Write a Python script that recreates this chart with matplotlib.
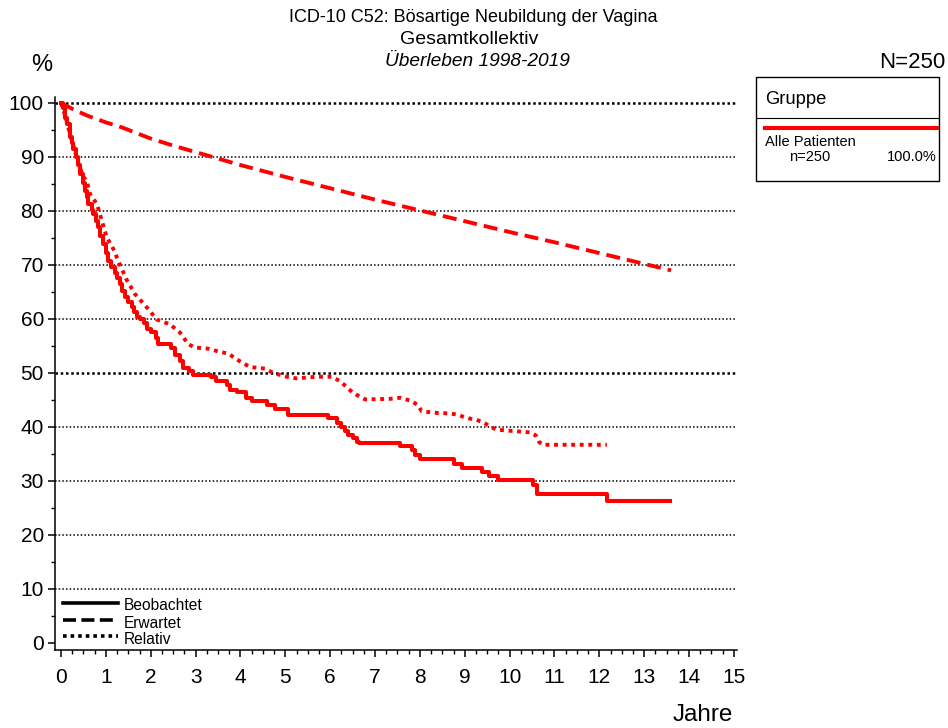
import matplotlib.pyplot as plt
from matplotlib.lines import Line2D
from matplotlib.patches import Rectangle
from matplotlib.ticker import MultipleLocator

plt.rcParams['font.family'] = ['Liberation Sans', 'DejaVu Sans']

# Beobachtet (Kaplan-Meier, Treppenfunktion)
obs_t = [0.00, 0.05, 0.09, 0.14, 0.19, 0.25, 0.27, 0.33, 0.38, 0.42, 0.48, 0.53, 0.58, 0.61,
         0.68, 0.72, 0.78, 0.83, 0.88, 0.94, 1.00, 1.05, 1.12, 1.20, 1.25, 1.31, 1.37, 1.43,
         1.50, 1.58, 1.63, 1.69, 1.76, 1.85, 1.91, 2.00, 2.12, 2.17, 2.45, 2.55, 2.65, 2.73,
         2.85, 2.95, 3.35, 3.45, 3.70, 3.77, 3.93, 4.12, 4.25, 4.60, 4.78, 5.05, 5.95, 6.15,
         6.25, 6.32, 6.40, 6.50, 6.60, 6.65, 7.56, 7.82, 7.90, 8.00, 8.76, 8.95, 9.38, 9.54,
         9.75, 10.52, 10.62, 12.18, 13.57]
obs_v = [100.0, 99.0, 97.3, 96.1, 93.7, 92.5, 91.5, 90.0, 88.5, 86.8, 85.2, 83.7, 82.5, 81.3,
         80.2, 79.4, 78.2, 77.0, 75.4, 73.8, 72.2, 70.7, 69.6, 68.6, 67.5, 66.4, 65.2, 64.0,
         63.1, 62.2, 61.3, 60.4, 60.0, 59.2, 58.1, 57.5, 56.4, 55.3, 54.7, 53.4, 52.2, 51.0,
         50.3, 49.7, 49.2, 48.5, 47.8, 46.9, 46.5, 45.4, 44.9, 44.0, 43.4, 42.2, 41.7, 40.8,
         40.0, 39.2, 38.6, 38.0, 37.3, 37.1, 36.5, 35.8, 34.8, 34.0, 33.2, 32.4, 31.7, 30.9,
         30.1, 29.2, 27.5, 26.3, 26.3]

# Erwartet
exp_t = [0.0, 0.3, 0.6, 1.0, 1.35, 2.0, 2.54, 3.0, 4.0, 5.0, 6.0, 7.0, 8.0, 9.0, 10.0,
         11.0, 12.0, 13.0, 13.6]
exp_v = [100.0, 98.7, 97.6, 96.4, 95.5, 93.4, 92.0, 90.9, 88.5, 86.3, 84.2, 82.1, 80.1,
         78.1, 76.1, 74.2, 72.2, 70.2, 69.0]

# Relativ
rel_t = [0.0, 0.1, 0.2, 0.3, 0.4, 0.5, 0.57, 0.65, 0.8, 0.91, 1.02, 1.17, 1.31, 1.46, 1.65,
         1.8, 1.98, 2.13, 2.43, 2.65, 2.84, 2.99, 3.28, 3.54, 3.73, 3.92, 4.21, 4.55, 4.73,
         5.03, 5.25, 5.70, 6.03, 6.22, 6.51, 6.78, 7.33, 7.56, 7.82, 7.96, 8.04, 8.37, 8.67,
         8.82, 9.04, 9.30, 9.41, 9.56, 9.71, 10.16, 10.45, 10.59, 10.66, 10.74, 12.17]
rel_v = [100.0, 97.5, 94.2, 91.4, 88.5, 86.3, 85.6, 83.1, 81.3, 78.2, 75.1, 72.9, 70.1, 67.3,
         64.6, 63.2, 61.5, 59.9, 59.0, 57.5, 55.3, 54.7, 54.5, 53.9, 53.6, 52.5, 51.1, 50.8,
         50.0, 49.3, 49.0, 49.3, 49.3, 48.5, 46.3, 45.1, 45.2, 45.4, 44.8, 44.0, 42.9, 42.6,
         42.5, 42.3, 41.7, 41.2, 40.9, 40.1, 39.5, 39.2, 39.0, 38.4, 37.2, 36.7, 36.7]

grid_levels = [10, 20, 30, 40, 50, 60, 70, 80, 90, 100]
bold_levels = [50, 100]
x_ticks = list(range(0, 16))
y_ticks = list(range(0, 101, 10))

W, H = 948, 728
def fx(px):
    return px / W
def fy(py):
    return 1 - py / H

fig = plt.figure(figsize=(9.48, 7.28), dpi=100)
ax = fig.add_axes([fx(55), fy(650), fx(737) - fx(55), fy(97) - fy(650)])

#gridlines, 50 and 100 a bit heavier
for g in grid_levels:
    if g in bold_levels:
        ax.axhline(g, color='black', lw=1.8, dashes=(1, 1.1), zorder=1)
    else:
        ax.axhline(g, color='black', lw=1.1, dashes=(1, 1.4), zorder=1)

red = '#ff0000'
ax.plot(exp_t, exp_v, color=red, lw=2.8, dashes=(3.6, 1.8), zorder=3)
ax.plot(rel_t, rel_v, color=red, lw=2.8, dashes=(1, 1.2), zorder=3)
ax.plot(obs_t, obs_v, color=red, lw=2.9, drawstyle='steps-post', zorder=4)

ax.set_xlim(-0.134, 15.07)
ax.set_ylim(-1.3, 101.1)
ax.set_xticks(x_ticks)
ax.set_yticks(y_ticks)
ax.xaxis.set_minor_locator(MultipleLocator(0.25))
ax.yaxis.set_minor_locator(MultipleLocator(5))
ax.tick_params(which='major', direction='out', length=5, width=1.1, labelsize=15)
ax.tick_params(which='minor', direction='out', length=3, width=1.0)
ax.tick_params(axis='x', which='major', pad=8)
ax.tick_params(axis='y', which='major', pad=3)
for s in ['top', 'right']:
    ax.spines[s].set_visible(False)
for s in ['left', 'bottom']:
    ax.spines[s].set_linewidth(1.1)

# Titel
fig.text(fx(473), fy(17), 'ICD-10 C52: Bösartige Neubildung der Vagina', ha='center', va='center', fontsize=13)
fig.text(fx(469), fy(40), 'Gesamtkollektiv', ha='center', va='center', fontsize=14)
fig.text(fx(477), fy(62), 'Überleben 1998-2019', ha='center', va='center', fontsize=13.8, style='italic')
fig.text(fx(945), fy(62), 'N=250', ha='right', va='center', fontsize=16)
fig.text(fx(42), fy(65), '%', ha='center', va='center', fontsize=17)
fig.text(fx(733), fy(715), 'Jahre', ha='right', va='center', fontsize=17.5)

# Legende Gruppe
fig.patches.append(Rectangle((fx(756), fy(181)), fx(939) - fx(756), fy(77) - fy(181),
                             transform=fig.transFigure, fill=False, ec='black', lw=1.0))
fig.lines.append(Line2D([fx(756), fx(939)], [fy(118), fy(118)], transform=fig.transFigure, color='black', lw=0.8))
fig.lines.append(Line2D([fx(765), fx(937)], [fy(128), fy(128)], transform=fig.transFigure, color=red, lw=2.9))
fig.text(fx(765), fy(99), 'Gruppe', ha='left', va='center', fontsize=13.2)
fig.text(fx(765), fy(142), 'Alle Patienten', ha='left', va='center', fontsize=10.5)
fig.text(fx(810), fy(157), 'n=250', ha='center', va='center', fontsize=10.5)
fig.text(fx(937), fy(157), '100.0%', ha='right', va='center', fontsize=10.5)

# Legende Linienarten
styles = [('Beobachtet', None, 603), ('Erwartet', (3.6, 1.5), 620), ('Relativ', (1, 1.1), 636)]
for lab, d, py in styles:
    ln = Line2D([fx(63), fx(118)], [fy(py), fy(py)], transform=fig.transFigure, color='black', lw=2.6)
    if d is not None:
        ln.set_dashes(d)
    fig.lines.append(ln)
    fig.text(fx(124), fy(py + 3), lab, ha='left', va='center', fontsize=11.2)

plt.savefig('out.png', dpi=100)
